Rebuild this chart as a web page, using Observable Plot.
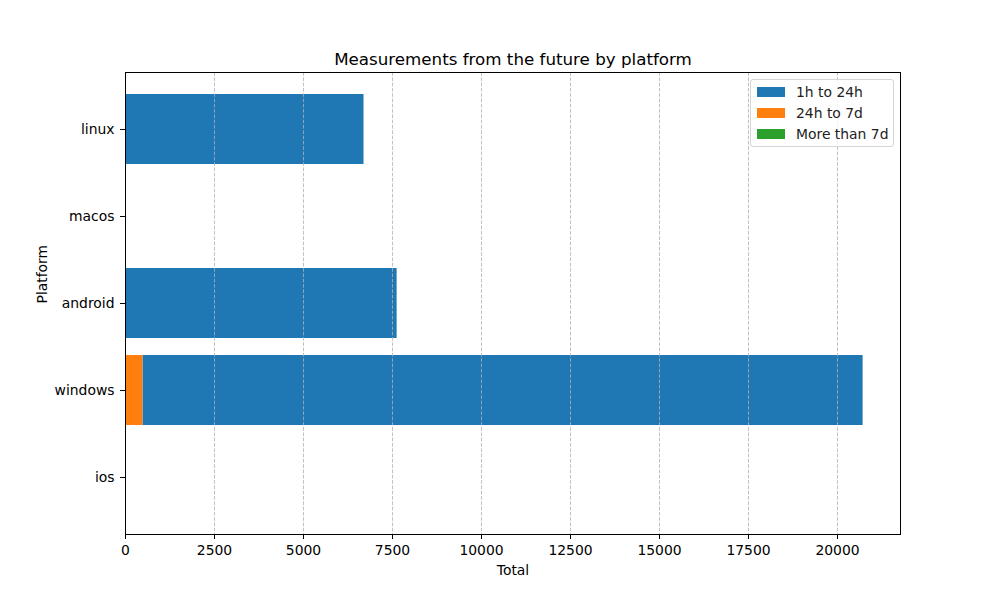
<!DOCTYPE html>
<html>
<head>
<meta charset="utf-8">
<script src="https://cdn.jsdelivr.net/npm/d3@7"></script>
<script src="https://cdn.jsdelivr.net/npm/@observablehq/plot@0.6"></script>
<style>
  body { margin: 0; background: white; font-family: "DejaVu Sans", sans-serif; }
  #wrap { position: relative; width: 1000px; height: 600px; }
  #legend { position: absolute; left: 750px; top: 79px; width: 142px; height: 66px;
    border: 1px solid #d5d5d5; border-radius: 3px; background: rgba(255,255,255,0.8);
    font-size: 13.9px; color: #222; box-sizing: content-box; }
  .row { position: absolute; left: 6px; height: 16px; display: flex; align-items: center; }
  .sw { width: 28px; height: 10px; margin-right: 11px; }
</style>
</head>
<body>
<div id="wrap"></div>
<script>
const platforms = ["linux", "macos", "android", "windows", "ios"];
const seriesNames = ["1h to 24h", "24h to 7d", "More than 7d"];
const colors = ["#1f77b4", "#ff7f0e", "#2ca02c"];
const v1hTo24h = [6700, 0, 7630, 20230, 0];
const v24hTo7d = [0, 0, 0, 490, 0];
const vMoreThan7d = [0, 0, 0, 0, 0];
const xTicks = [0, 2500, 5000, 7500, 10000, 12500, 15000, 17500, 20000];

const valuesBySeries = [v1hTo24h, v24hTo7d, vMoreThan7d];
const data = [];
seriesNames.forEach((s, i) => platforms.forEach((p, j) => data.push({platform: p, series: s, value: valuesBySeries[i][j]})));

const chart = Plot.plot({
  width: 1000, height: 600,
  marginLeft: 125, marginRight: 100, marginTop: 72, marginBottom: 66,
  style: {fontFamily: "DejaVu Sans, sans-serif", fontSize: "13.9px", color: "black", background: "white"},
  x: {domain: [0, 21770], label: null},
  y: {domain: platforms, paddingInner: 0.2, paddingOuter: 0.24, label: null, align: 0.5},
  color: {domain: seriesNames, range: colors},
  marks: [
    Plot.barX(data, Plot.stackX({x: "value", y: "platform", fill: "series", z: "series",
      order: ["24h to 7d", "1h to 24h", "More than 7d"]})),
    Plot.ruleX(xTicks.slice(1), {stroke: "#b0b0b0", strokeDasharray: "3.7,1.6", strokeWidth: 0.8}),
    Plot.frame({stroke: "black", strokeWidth: 1}),
    Plot.axisX({ticks: xTicks, tickFormat: d => String(d), label: null, tickSize: 5, tickPadding: 6, fontSize: 13.9}),
    Plot.axisY({label: null, tickSize: 5, tickPadding: 6, fontSize: 13.9}),
    Plot.text(["Measurements from the future by platform"], {frameAnchor: "top", dy: -8, fontSize: 16.7, lineAnchor: "bottom"}),
    Plot.text(["Total"], {frameAnchor: "bottom", dy: 36, fontSize: 13.9, lineAnchor: "middle"}),
    Plot.text(["Platform"], {frameAnchor: "left", dx: -83, rotate: -90, fontSize: 13.9})
  ]
});
const wrap = document.getElementById("wrap");
wrap.appendChild(chart);

const legend = document.createElement("div");
legend.id = "legend";
seriesNames.forEach((s, i) => {
  const row = document.createElement("div");
  row.className = "row";
  row.style.top = (4 + i * 20.8) + "px";
  const sw = document.createElement("div");
  sw.className = "sw";
  sw.style.background = colors[i];
  const t = document.createElement("span");
  t.textContent = s;
  row.appendChild(sw); row.appendChild(t);
  legend.appendChild(row);
});
wrap.appendChild(legend);
</script>
</body>
</html>
